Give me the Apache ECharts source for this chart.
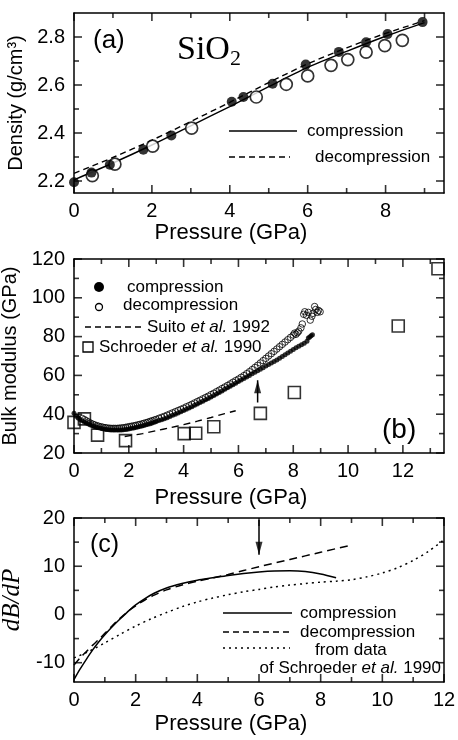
<!DOCTYPE html>
<html>
<head>
<meta charset="utf-8">
<script src="https://cdn.jsdelivr.net/npm/echarts@6/dist/echarts.min.js"></script>
<style>
html,body{margin:0;padding:0;background:#fff;}
#main{width:458px;height:740px;}
</style>
</head>
<body>
<div id="main"></div>
<script>
// ---- (a) density vs pressure ----
var densComp = [[0,2.195],[0.45,2.235],[0.92,2.268],[1.78,2.33],[2.5,2.39],[4.05,2.53],[4.35,2.55],
    [5.1,2.605],[5.95,2.685],[6.8,2.738],[7.5,2.778],[8.05,2.812],[8.95,2.862]];
var densDecomp = [[0.47,2.222],[1.05,2.27],[2.02,2.345],[3.02,2.42],[4.68,2.55],[5.45,2.603],
    [6.0,2.638],[6.6,2.682],[7.03,2.706],[7.5,2.737],[7.98,2.764],[8.43,2.786]];
var densCompFit = [[0,2.205],[1,2.275],[2,2.35],[3,2.43],[4,2.51],[5,2.593],[6,2.673],[7,2.74],[8,2.803],[9,2.86]];
var densDecompFit = [[0,2.232],[1,2.298],[2,2.37],[3,2.448],[4,2.528],[5,2.61],[6,2.688],[7,2.755],[8,2.815],[9,2.868]];

// ---- (b) bulk modulus ----
var bulkComp = [[0,40.5],[0.08,39],[0.15,38],[0.22,37.3],[0.3,36.6],[0.38,36],[0.45,35.4],[0.53,34.9],[0.6,34.4],
    [0.68,34],[0.75,33.6],[0.83,33.3],[0.9,33],[0.98,32.7],[1.05,32.5],[1.13,32.3],[1.2,32.1],[1.28,32],[1.35,31.9],
    [1.43,31.8],[1.5,31.8],[1.58,31.8],[1.65,31.9],[1.73,31.9],[1.8,32],[1.88,32.1],[1.95,32.3],[2.03,32.5],[2.1,32.7],
    [2.18,32.9],[2.25,33.1],[2.33,33.4],[2.4,33.6],[2.48,33.9],[2.55,34.2],[2.63,34.5],[2.7,34.8],[2.78,35.1],[2.85,35.5],
    [2.93,35.8],[3,36.2],[3.1,36.7],[3.2,37.2],[3.3,37.7],[3.4,38.2],[3.5,38.8],[3.6,39.4],[3.7,40],[3.8,40.6],[3.9,41.2],
    [4,41.9],[4.1,42.5],[4.2,43.2],[4.3,43.9],[4.4,44.6],[4.5,45.3],[4.6,46],[4.7,46.7],[4.8,47.4],[4.9,48.1],[5,48.9],
    [5.1,49.6],[5.2,50.4],[5.3,51.2],[5.4,52],[5.5,52.8],[5.6,53.6],[5.7,54.4],[5.8,55.2],[5.9,56],[6,56.8],[6.1,57.6],
    [6.2,58.4],[6.3,59.2],[6.4,60],[6.5,60.8],[6.6,61.6],[6.7,62.4],[6.8,63.2],[6.9,64],[7,64.8],[7.1,65.6],[7.2,66.4],
    [7.3,67.2],[7.4,68],[7.5,68.8],[7.6,69.7],[7.7,70.6],[7.8,71.5],[7.9,72.4],[8,73.3],[8.1,74.2],[8.2,75],[8.3,75.8],
    [8.4,76.6],[8.5,77.6],[8.55,79.3],[8.6,79.8],[8.65,80.4],[8.7,81]];
var bulkDecomp = [[0.3,37.8],[0.38,37.2],[0.45,36.6],[0.53,36],[0.6,35.4],[0.68,34.9],[0.75,34.5],[0.83,34.1],[0.9,33.8],
    [0.98,33.5],[1.05,33.3],[1.13,33.1],[1.2,32.9],[1.28,32.8],[1.35,32.7],[1.43,32.7],[1.5,32.7],[1.58,32.7],[1.65,32.8],
    [1.73,32.9],[1.8,33],[1.88,33.2],[1.95,33.4],[2.03,33.6],[2.1,33.8],[2.18,34],[2.25,34.2],[2.33,34.5],[2.4,34.7],
    [2.48,35],[2.55,35.3],[2.63,35.6],[2.7,35.9],[2.78,36.3],[2.85,36.6],[2.93,37],[3,37.3],[3.1,37.9],[3.2,38.4],[3.3,38.9],
    [3.4,39.5],[3.5,40.1],[3.6,40.7],[3.7,41.3],[3.8,41.9],[3.9,42.5],[4,43.1],[4.1,43.8],[4.2,44.4],[4.3,45.1],[4.4,45.8],
    [4.5,46.5],[4.6,47.2],[4.7,47.9],[4.8,48.6],[4.9,49.3],[5,50.1],[5.1,50.8],[5.2,51.6],[5.3,52.4],[5.4,53.2],[5.5,54],
    [5.6,54.8],[5.7,55.6],[5.8,56.5],[5.9,57.3],[6,58.1],[6.1,59],[6.2,59.9],[6.3,60.9],[6.4,61.9],[6.5,63],[6.6,64.1],
    [6.7,65.2],[6.8,66.4],[6.9,67.6],[7,68.8],[7.1,70],[7.2,71.2],[7.3,72.4],[7.4,73.6],[7.5,74.8],[7.6,76],[7.7,77.2],
    [7.8,78.4],[7.9,79.6],[8,80.8],[8.05,81.8],[8.1,81.2],[8.15,82],[8.2,82.8],[8.28,84.5],[8.33,86.5],[8.38,91.5],
    [8.42,92.8],[8.48,91],[8.55,92.5],[8.62,88.5],[8.68,90.5],[8.72,92],[8.78,95.5],[8.82,94],[8.88,92.5],[8.92,93.5],[8.98,92.8]];
var suito = [[1.85,28.5],[2.5,30],[3,31.5],[3.5,33],[4,34.6],[4.5,36.4],[5,38.3],[5.5,40.3],[5.9,41.8]];
var schroeder = [[0,35.8],[0.38,37.6],[0.86,29.2],[1.88,26.4],[4.02,30],[4.44,30.2],[5.1,33.5],[6.8,40.4],[8.04,51.2],[11.83,85.5],[13.28,115]];
var arrowB = [[6.7,46],[6.7,57.5]];

// ---- (c) dB/dP ----
var dbComp = [[0,-13.5],[0.2,-11.3],[0.4,-9.3],[0.6,-7.4],[0.8,-5.7],[1,-4.2],[1.2,-2.8],[1.4,-1.5],[1.6,-0.3],[1.8,0.9],
    [2,2],[2.3,3.3],[2.6,4.4],[3,5.5],[3.5,6.4],[4,7.1],[4.5,7.6],[5,8.1],[5.5,8.5],[6,8.8],[6.5,9],[7,9.05],[7.5,8.9],[8,8.4],[8.5,7.6]];
var dbDecomp = [[0,-10.5],[0.2,-9],[0.4,-7.7],[0.6,-6.4],[0.8,-5.2],[1,-3.9],[1.2,-2.6],[1.4,-1.3],[1.6,-0.2],[1.8,0.9],
    [2,1.8],[2.3,3],[2.6,4],[3,5.1],[3.5,6.1],[4,6.9],[4.5,7.6],[5,8.3],[5.5,9.1],[6,9.9],[7,11.4],[8,12.9],[9,14.4]];
var dbSchroeder = [[0,-9],[0.5,-7.6],[1,-5.9],[1.5,-4.1],[2,-2.4],[2.5,-0.9],[3,0.4],[3.5,1.6],[4,2.6],[4.5,3.4],[5,4.1],
    [5.5,4.7],[6,5.2],[6.5,5.7],[7,6.1],[7.5,6.4],[8,6.7],[8.5,6.9],[9,7.2],[9.5,7.8],[10,8.6],[10.5,9.7],[11,11.2],[11.5,13.1],[12,15.5]];
var arrowC = [[6,19.6],[6,12.4]];

// ticks (major / minor) and axis ranges
var tickA = {x:[0,2,4,6,8], xm:[1,3,5,7,9], y:[2.2,2.4,2.6,2.8], ym:[2.3,2.5,2.7]};
var tickB = {x:[0,2,4,6,8,10,12], xm:[1,3,5,7,9,11,13], y:[20,40,60,80,100,120], ym:[30,50,70,90,110]};
var tickC = {x:[0,2,4,6,8,10,12], xm:[1,3,5,7,9,11], y:[-10,0,10,20], ym:[-5,5,15]};
var rangeA = {x:[0,9.5], y:[2.15,2.9]};
var rangeB = {x:[0,13.5], y:[20,120]};
var rangeC = {x:[0,12], y:[-14,20]};

var F = "'Liberation Sans', Arial, sans-serif";
var FS = "'Liberation Serif', 'Times New Roman', serif";
var black = '#000';

function axis(grid, r, major, pos, labels, name, nameGap, nameStyle) {
    var a = {
        type: 'value', gridIndex: grid, min: r[0], max: r[1], position: pos,
        splitLine: {show: false},
        axisLine: {show: true, onZero: false, lineStyle: {color: black, width: 1.5}},
        axisTick: {show: false},
        axisLabel: labels ? {show: true, customValues: major, color: black, fontSize: 20, fontFamily: F,
            margin: (pos == 'bottom') ? 8 : 9} : {show: false}
    };
    if (name) {
        a.name = name;
        a.nameLocation = 'middle';
        a.nameGap = nameGap;
        a.nameTextStyle = nameStyle;
    }
    return a;
}

var xName = {color: black, fontSize: 22, fontFamily: F, padding: [0, 56, 0, 0]};
var yName = {color: black, fontSize: 20, fontFamily: F};
var xAxis = [
    axis(0, rangeA.x, tickA.x, 'bottom', true, 'Pressure (GPa)', 27, xName),
    axis(0, rangeA.x, tickA.x, 'top', false),
    axis(1, rangeB.x, tickB.x, 'bottom', true, 'Pressure (GPa)', 34, xName),
    axis(1, rangeB.x, tickB.x, 'top', false),
    axis(2, rangeC.x, tickC.x, 'bottom', true, 'Pressure (GPa)', 31, xName),
    axis(2, rangeC.x, tickC.x, 'top', false)
];
var yAxis = [
    axis(0, rangeA.y, tickA.y, 'left', true, 'Density (g/cm³)', 44, yName),
    axis(0, rangeA.y, tickA.y, 'right', false),
    axis(1, rangeB.y, tickB.y, 'left', true, 'Bulk modulus (GPa)', 46, yName),
    axis(1, rangeB.y, tickB.y, 'right', false),
    axis(2, rangeC.y, tickC.y, 'left', true, 'dB/dP', 42, {color: black, fontSize: 25, fontFamily: FS, fontStyle: 'italic'}),
    axis(2, rangeC.y, tickC.y, 'right', false)
];

// inward tick marks: thin rect symbols sitting on each frame edge, shifted inward by half their length
function tickSet(g, pts, size, offset) {
    return {type: 'scatter', xAxisIndex: g * 2, yAxisIndex: g * 2, data: pts, symbol: 'rect',
        symbolSize: size, symbolOffset: offset, clip: false, silent: true, itemStyle: {color: black}, z: 6};
}
function ticks(g, r, t) {
    var out = [];
    [[t.x, 8], [t.xm, 5]].forEach(function (p) {
        var vals = p[0], len = p[1];
        out.push(tickSet(g, vals.map(function (v) { return [v, r.y[0]]; }), [1.6, len], [0, '-50%']));
        out.push(tickSet(g, vals.map(function (v) { return [v, r.y[1]]; }), [1.6, len], [0, '50%']));
    });
    [[t.y, 8], [t.ym, 5]].forEach(function (p) {
        var vals = p[0], len = p[1];
        out.push(tickSet(g, vals.map(function (v) { return [r.x[0], v]; }), [len, 1.6], ['50%', 0]));
        out.push(tickSet(g, vals.map(function (v) { return [r.x[1], v]; }), [len, 1.6], ['-50%', 0]));
    });
    return out;
}

function lineS(g, data, type, w) {
    return {type: 'line', xAxisIndex: g * 2, yAxisIndex: g * 2, data: data, smooth: 0.3, symbol: 'none',
        lineStyle: {color: black, width: w || 1.4, type: type}, z: 2};
}
function arrow(g, pts, down) {
    return [
        {type: 'line', xAxisIndex: g * 2, yAxisIndex: g * 2, data: pts, symbol: 'none', lineStyle: {color: black, width: 1.5}, z: 4},
        {type: 'scatter', xAxisIndex: g * 2, yAxisIndex: g * 2, data: [pts[1]], symbol: 'triangle', symbolSize: [7, 13],
            symbolRotate: down ? 180 : 0, symbolOffset: [0, down ? '-50%' : '50%'], itemStyle: {color: black}, z: 5}
    ];
}

var series = [
    lineS(0, densCompFit, 'solid', 1.4),
    lineS(0, densDecompFit, [6, 4], 1.4),
    {type: 'scatter', xAxisIndex: 0, yAxisIndex: 0, data: densDecomp, symbol: 'circle', symbolSize: 12,
        itemStyle: {color: '#fff', borderColor: black, borderWidth: 1.7}, z: 3},
    {type: 'scatter', xAxisIndex: 0, yAxisIndex: 0, data: densComp, symbol: 'circle', symbolSize: 10,
        itemStyle: {color: black}, z: 4},

    {type: 'scatter', xAxisIndex: 2, yAxisIndex: 2, data: bulkComp, symbol: 'circle', symbolSize: 5,
        itemStyle: {color: black}, z: 3},
    {type: 'scatter', xAxisIndex: 2, yAxisIndex: 2, data: bulkDecomp, symbol: 'circle', symbolSize: 6.5,
        itemStyle: {color: 'rgba(255,255,255,0)', borderColor: black, borderWidth: 1}, z: 3},
    lineS(1, suito, [7, 5], 1.4),
    {type: 'scatter', xAxisIndex: 2, yAxisIndex: 2, data: schroeder, symbol: 'rect', symbolSize: 12,
        itemStyle: {color: 'rgba(255,255,255,0)', borderColor: black, borderWidth: 1.6}, z: 3},

    lineS(2, dbComp, 'solid', 1.5),
    lineS(2, dbDecomp, [8, 5], 1.5),
    lineS(2, dbSchroeder, [2, 4], 1.5)
].concat(arrow(1, arrowB, false), arrow(2, arrowC, true),
    ticks(0, rangeA, tickA), ticks(1, rangeB, tickB), ticks(2, rangeC, tickC));

function txt(x, y, text, size, extra) {
    return {type: 'text', x: x, y: y, silent: true,
        style: Object.assign({text: text, fontSize: size, fontFamily: F, fill: black, verticalAlign: 'middle', align: 'left'}, extra || {})};
}
function seg(x1, x2, y, dash) {
    return {type: 'line', silent: true, shape: {x1: x1, y1: y, x2: x2, y2: y},
        style: {stroke: black, lineWidth: 1.4, lineDash: dash || null}};
}
var rich = {n: {fontSize: 17, fontFamily: F, fill: black}, i: {fontSize: 17, fontFamily: F, fontStyle: 'italic', fill: black}};

var graphic = [
    txt(93, 41, '(a)', 26),
    {type: 'text', x: 177, y: 50, silent: true, style: {text: '{a|SiO}{s|2}', verticalAlign: 'middle',
        rich: {a: {fontSize: 34, fontFamily: FS, fill: black, lineHeight: 40, verticalAlign: 'middle'},
               s: {fontSize: 22, fontFamily: FS, fill: black, lineHeight: 22, verticalAlign: 'bottom'}}}},
    seg(229, 297, 131), txt(307, 131, 'compression', 17),
    seg(229, 290, 157, [6, 4]), txt(315, 157, 'decompression', 17),

    {type: 'circle', silent: true, shape: {cx: 99, cy: 287, r: 5}, style: {fill: black}},
    txt(127, 287, 'compression', 17),
    {type: 'circle', silent: true, shape: {cx: 99, cy: 307, r: 3.5}, style: {fill: '#fff', stroke: black, lineWidth: 1.3}},
    txt(123, 305, 'decompression', 17),
    seg(85, 145, 327, [6, 4]),
    {type: 'text', x: 147, y: 327, silent: true, style: {text: '{n|Suito }{i|et al.}{n| 1992}', rich: rich, verticalAlign: 'middle'}},
    {type: 'rect', silent: true, shape: {x: 83, y: 342, width: 10, height: 10}, style: {fill: 'none', stroke: black, lineWidth: 1.3}},
    {type: 'text', x: 99, y: 347, silent: true, style: {text: '{n|Schroeder }{i|et al.}{n| 1990}', rich: rich, verticalAlign: 'middle'}},
    txt(382, 430, '(b)', 28),

    txt(90, 545, '(c)', 25),
    seg(223, 292, 613), txt(300, 613, 'compression', 17),
    seg(223, 290, 632, [6, 4]), txt(300, 632, 'decompression', 17),
    seg(223, 290, 648, [2, 4]), txt(315, 650, 'from data', 17),
    {type: 'text', x: 441, y: 668, silent: true, style: {text: '{n|of Schroeder }{i|et al.}{n| 1990}', rich: rich, verticalAlign: 'middle', align: 'right'}}
];

var myChart = echarts.init(document.getElementById('main'));
myChart.setOption({
    animation: false,
    backgroundColor: '#fff',
    grid: [
        {left: 74, top: 13, width: 370, height: 180, outerBoundsMode: 'none'},
        {left: 74, top: 259, width: 370, height: 194, outerBoundsMode: 'none'},
        {left: 74, top: 518, width: 370, height: 164, outerBoundsMode: 'none'}
    ],
    xAxis: xAxis,
    yAxis: yAxis,
    series: series,
    graphic: graphic
});
</script>
</body>
</html>
